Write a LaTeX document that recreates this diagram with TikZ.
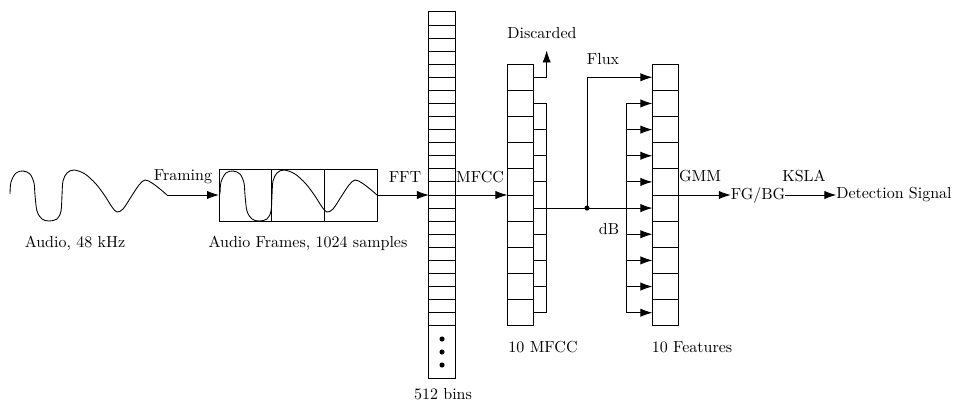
\documentclass[tikz,border=0pt]{standalone}
\usetikzlibrary{arrows.meta,calc}
\begin{document}
\begin{tikzpicture}[x=0.625pt,y=-0.625pt,line width=0.55pt,
  arr/.style={-{Latex[length=7.5pt,width=5.2pt]}},
  txt/.style={inner sep=0pt,outer sep=0pt},
  colbox/.style={draw,inner sep=0pt,outer sep=0pt}]
\useasboundingbox (0,0) rectangle (955,405);

% frames box
\node[colbox,minimum width=98.75pt,minimum height=32.5pt] (frames) at (298,195) {};
\draw ($(frames.north west)+(52.67,0)$) -- ($(frames.south west)+(52.67,0)$);
\draw ($(frames.north west)+(105.33,0)$) -- ($(frames.south west)+(105.33,0)$);

% waveforms (audio and framed copy)
\foreach \s in {0,210}{
  \draw[shift={(\s,0)}] plot[smooth,tension=0.55] coordinates {
    (10,194) (11,182) (16,173) (23,171) (30,174) (34,183) (35,195) (37,211)
    (42,219) (49,221) (57,219) (61,211) (62,195) (63,181) (67,173) (74,170)
    (85,174) (96,184) (105,196) (112,207) (117,212) (123,209) (131,197)
    (139,185) (145,180) (152,183) (160,189) (167,195)};
}
\coordinate (wend) at (167,195);

% FFT column
\node[colbox,minimum width=16.35pt,minimum height=228.9pt] (fft) at (442,195) {};
\foreach \k in {1,...,24}{
  \draw ($(fft.north west)+(0,13.08*\k)$) -- ++(26.16,0);
}
\fill (442,339) circle[radius=1.6pt];
\fill (442,352) circle[radius=1.6pt];
\fill (442,365) circle[radius=1.6pt];

% MFCC column
\node[colbox,minimum width=16.35pt,minimum height=163.5pt] (mfcc) at (520.5,195) {};
\foreach \k in {1,...,9}{
  \draw ($(mfcc.north west)+(0,26.16*\k)$) -- ++(26.16,0);
}
% delta column
\node[colbox,minimum width=8.175pt,minimum height=130.8pt,anchor=north west] (delta)
  at ($(mfcc.north east)+(0,39.24)$) {};
\foreach \k in {1,...,7}{
  \draw ($(delta.north west)+(0,26.16*\k)$) -- ++(13.08,0);
}

% features column
\node[colbox,minimum width=16.35pt,minimum height=163.5pt] (feat) at (665.5,195) {};
\foreach \k in {1,...,9}{
  \draw ($(feat.north west)+(0,26.16*\k)$) -- ++(26.16,0);
}

% text nodes
\node[txt] (fgbg) at (758,195) {FG/BG};
\node[txt] (det) at (894,195) {Detection Signal};

% connectors
\draw[arr] (wend) -- (frames.west);
\draw[arr] (frames.east) -- (fft.west);
\draw[arr] (fft.east) -- (mfcc.west);
\coordinate (disc) at ($(delta.north east)+(0,-53)$);
\draw[arr] ($(mfcc.north east)+(0,13.08)$) -| (disc);
\coordinate (split) at ($(delta.north west)+(0,104.64)$);
\coordinate (dot) at ($(split)+(53.4,0)$);
\draw[arr] (split) -- (split -| feat.west);
\fill (dot) circle[radius=1.6pt];
\draw[arr] (dot) |- ($(feat.north west)+(0,13.08)$);
\draw ($(feat.north west)+(-26.16,39.24)$) -- ($(feat.south west)+(-26.16,-13.08)$);
\foreach \k in {1,2,3,4,6,7,8,9}{
  \draw[arr] ($(feat.north west)+(-26.16,13.08+26.16*\k)$) -- ++(26.16,0);
}
\draw[arr] (feat.east) -- (fgbg.west);
\draw[arr] (fgbg.east) -- (det.west);

% labels
\node[txt] (lframing) at (183,177) {Framing};
\node[txt] (lfft) at (405,177) {FFT};
\node[txt] (lmfcc) at (480,177) {MFCC};
\node[txt] (lgmm) at (700,176) {GMM};
\node[txt] (lksla) at (804,176) {KSLA};
\node[txt] (laudio) at (75,243) {Audio, 48 kHz};
\node[txt] (lframes) at (308,243) {Audio Frames, 1024 samples};
\node[txt] (lbins) at (443,394) {512 bins};
\node[txt] (ldisc) at (542,33) {Discarded};
\node[txt] (lflux) at (603,59) {Flux};
\node[txt] (ldb) at (609,229) {dB};
\node[txt] (lnm) at (543,347) {10 MFCC};
\node[txt] (lnf) at (692,347) {10 Features};
\end{tikzpicture}
\end{document}
